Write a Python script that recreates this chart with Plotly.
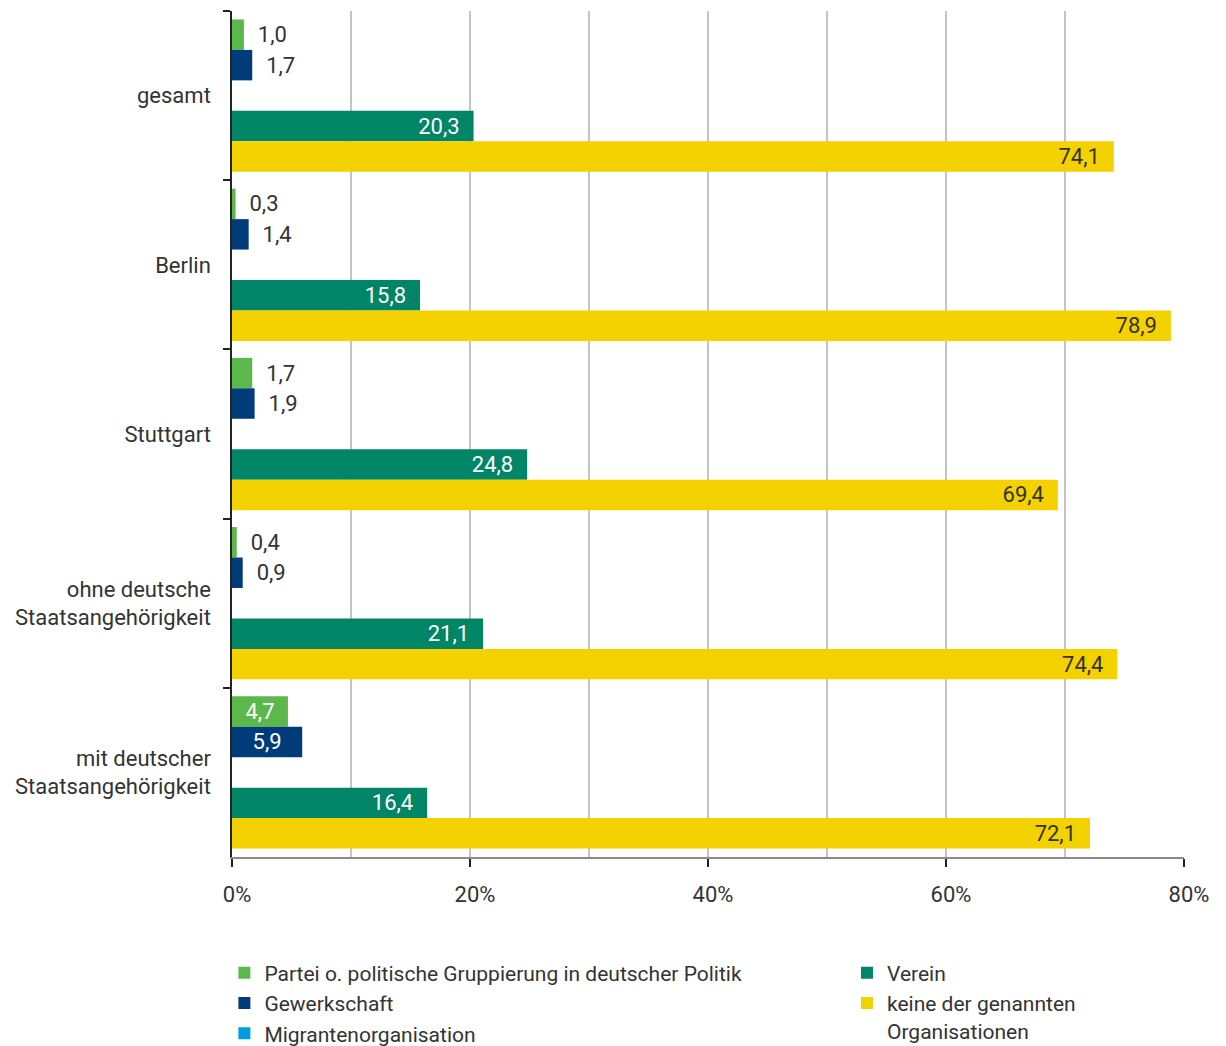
import plotly.graph_objects as go

categories = ["gesamt", "Berlin", "Stuttgart", "ohne deutsche<br>Staatsangehörigkeit",
              "mit deutscher<br>Staatsangehörigkeit"]
partei = [1.0, 0.3, 1.7, 0.4, 4.7]
gewerkschaft = [1.7, 1.4, 1.9, 0.9, 5.9]
migranten = [None, None, None, None, None]
verein = [20.3, 15.8, 24.8, 21.1, 16.4]
keine = [74.1, 78.9, 69.4, 74.4, 72.1]
x_tickvals = [0, 20, 40, 60, 80]
x_ticktext = ["0%", "20%", "40%", "60%", "80%"]

FONT = "Roboto, Arial, sans-serif"
DARK = "#333333"
FS = 22
LFS = 21
NB = "\u00a0\u00a0"


def fmt(v):
    return f"{v:.1f}".replace(".", ",")


def small_labels(vals, thresh=3):
    text, pos = [], []
    for v in vals:
        if v < thresh:
            text.append(NB + fmt(v))
            pos.append("outside")
        else:
            text.append(fmt(v))
            pos.append("inside")
    return text, pos


fig = go.Figure()

t1, p1 = small_labels(partei)
fig.add_trace(go.Bar(y=categories, x=partei, orientation="h", name="Partei o. politische Gruppierung in deutscher Politik",
                     marker_color="#5bb94b", text=t1, textposition=p1, insidetextanchor="middle",
                     insidetextfont=dict(color="white", size=FS, family=FONT),
                     outsidetextfont=dict(color=DARK, size=FS, family=FONT), legend="legend"))
t2, p2 = small_labels(gewerkschaft)
fig.add_trace(go.Bar(y=categories, x=gewerkschaft, orientation="h", name="Gewerkschaft",
                     marker_color="#003c7a", text=t2, textposition=p2, insidetextanchor="middle",
                     insidetextfont=dict(color="white", size=FS, family=FONT),
                     outsidetextfont=dict(color=DARK, size=FS, family=FONT), legend="legend"))
fig.add_trace(go.Bar(y=categories, x=migranten, orientation="h", name="Migrantenorganisation",
                     marker_color="#009ee0", legend="legend"))
fig.add_trace(go.Bar(y=categories, x=verein, orientation="h", name="Verein",
                     marker_color="#008566", text=[fmt(v) + NB for v in verein], textposition="inside",
                     insidetextanchor="end", insidetextfont=dict(color="white", size=FS, family=FONT),
                     legend="legend2"))
fig.add_trace(go.Bar(y=categories, x=keine, orientation="h", name="keine der genannten<br>Organisationen",
                     marker_color="#f4d100", text=[fmt(v) + NB for v in keine], textposition="inside",
                     insidetextanchor="end", insidetextfont=dict(color=DARK, size=FS, family=FONT),
                     legend="legend2"))

fig.update_traces(marker_line_width=0, constraintext="none", cliponaxis=False)

fig.update_layout(
    width=1226, height=1046,
    margin=dict(l=232, r=42, t=11, b=189, autoexpand=False),
    barmode="group", bargap=0.1, bargroupgap=0,
    plot_bgcolor="white", paper_bgcolor="white",
    font=dict(family=FONT, size=FS, color=DARK),
    legend=dict(x=-0.008, xanchor="left", y=-0.113, yanchor="top", orientation="v",
                font=dict(size=LFS, family=FONT, color=DARK), bgcolor="rgba(0,0,0,0)",
                tracegroupgap=0),
    legend2=dict(x=0.646, xanchor="left", y=-0.113, yanchor="top", orientation="v",
                 font=dict(size=LFS, family=FONT, color=DARK), bgcolor="rgba(0,0,0,0)",
                 valign="top", tracegroupgap=0),
    xaxis=dict(range=[0, 80], tickvals=x_tickvals, ticktext=x_ticktext,
               showgrid=True, gridcolor="#c4c4c4", gridwidth=1.5,
               minor=dict(dtick=10, tick0=0, showgrid=True, gridcolor="#c4c4c4", gridwidth=1.5, ticks=""),
               ticks="outside", ticklen=8, tickcolor="#222222", tickwidth=1.5,
               showline=True, linecolor="#8a8a8a", linewidth=2, zeroline=False,
               ticklabelstandoff=9, ticklabelshift=5,
               tickfont=dict(size=FS, family=FONT, color=DARK)),
    yaxis=dict(autorange="reversed", showgrid=False, tickson="boundaries",
               ticks="outside", ticklen=7, tickcolor="#222222", tickwidth=1.5,
               showline=True, linecolor="#222222", linewidth=1.5,
               ticklabelstandoff=15, tickfont=dict(size=FS, family=FONT, color=DARK)),
)

fig.write_html("out.html")
